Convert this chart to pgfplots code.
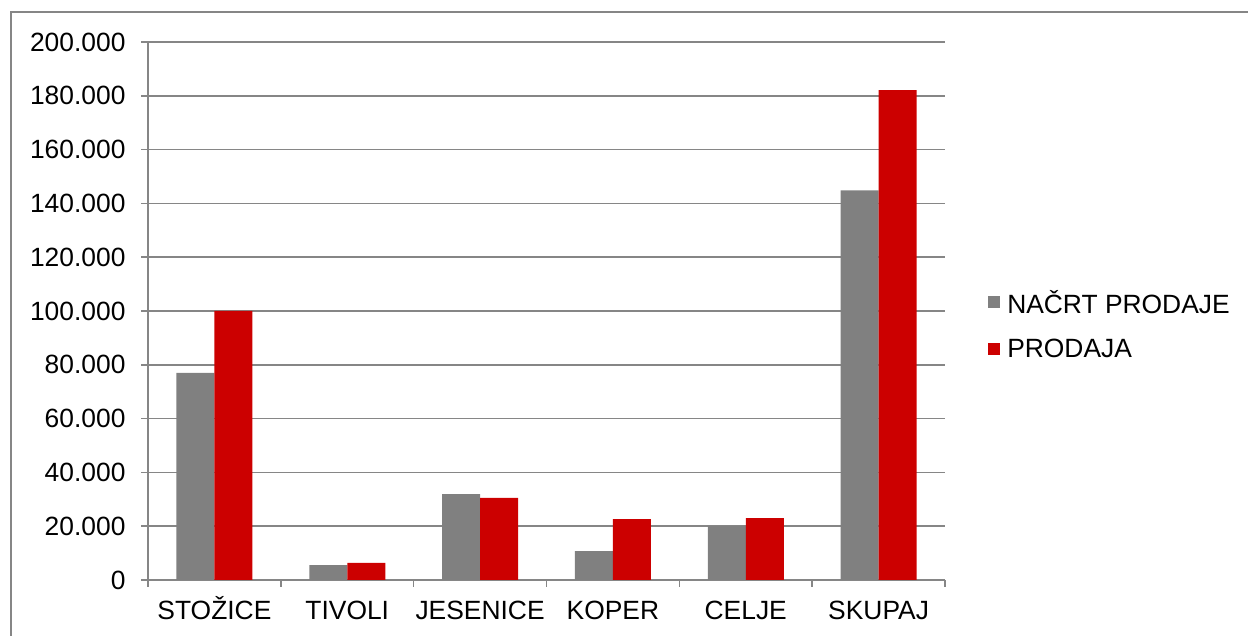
\documentclass[border=0pt]{standalone}
\usepackage{pgfplots}
\pgfplotsset{compat=1.18}
\usepackage{fontspec}
\setmainfont{Liberation Sans}
\definecolor{barGray}{HTML}{808080}
\definecolor{barRed}{HTML}{CC0000}
\definecolor{gridGray}{HTML}{868686}
\begin{document}
\begin{tikzpicture}[x=1bp,y=1bp]
\useasboundingbox (0,0) rectangle (1248,636);
\draw[gridGray, line width=1.5bp] (11,-5) -- (11,624) -- (1260,624);
\begin{axis}[
  at={(148bp,56bp)}, anchor=south west,
  scale only axis, width=797bp, height=538bp,
  ybar=0pt, bar width=38bp,
  xmin=-0.5, xmax=5.5, ymin=0, ymax=200000,
  xtick={0,1,2,3,4,5},
  xticklabels={STOŽICE,TIVOLI,JESENICE,KOPER,CELJE,SKUPAJ},
  major x tick style={draw=none},
  minor xtick={-0.5,0.5,1.5,2.5,3.5,4.5,5.5},
  minor tick length=7bp,
  major tick length=7bp,
  tick align=outside,
  xtick pos=bottom, ytick pos=left,
  ytick={0,20000,...,200000},
  yticklabels={0,20.000,40.000,60.000,80.000,100.000,120.000,140.000,160.000,180.000,200.000},
  scaled y ticks=false,
  ymajorgrids,
  grid style={gridGray, line width=1.5bp},
  axis line style={gridGray, line width=1.5bp},
  tick style={gridGray, line width=1.5bp},
  axis x line*=bottom, axis y line*=left,
  every tick label/.append style={font=\fontsize{26.5}{31}\selectfont, black},
  xticklabel style={yshift=-10bp, text height=19bp, text depth=3bp},
  yticklabel style={xshift=-12bp},
  legend style={draw=none, fill=none, at={(1.054,0.475)}, anchor=west,
    font=\fontsize{26.5}{31}\selectfont, row sep=20bp, column sep=5bp, inner sep=0pt},
  legend cell align=left,
  legend image code/.code={\fill[#1] (0bp,-6bp) rectangle (12bp,6bp);},
]
\addplot[fill=barGray, draw=none] coordinates {(0,77000) (1,5500) (2,31900) (3,10700) (4,20100) (5,144800)};
\addplot[fill=barRed, draw=none] coordinates {(0,100000) (1,6400) (2,30500) (3,22600) (4,23000) (5,182100)};
\legend{NAČRT PRODAJE, PRODAJA}
\end{axis}
\end{tikzpicture}
\end{document}
